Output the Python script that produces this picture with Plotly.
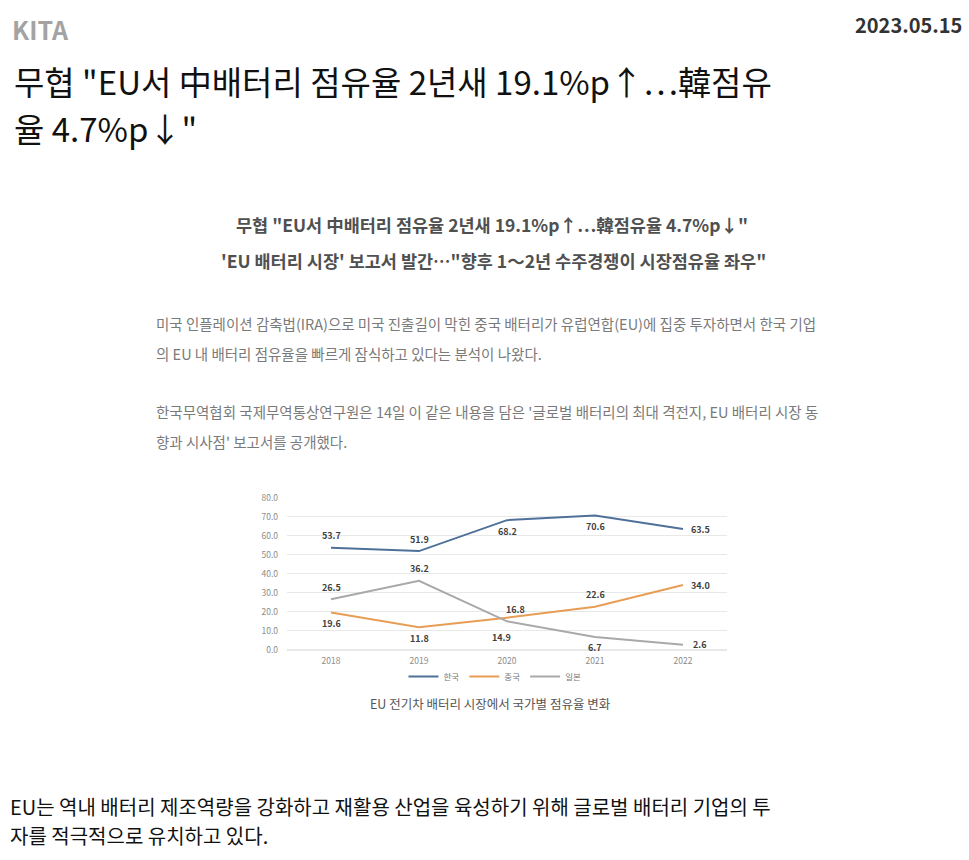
import plotly.graph_objects as go

# page size
W, H = 969, 860

# chart data
years = ["2018", "2019", "2020", "2021", "2022"]
korea = [53.7, 51.9, 68.2, 70.6, 63.5]
china = [19.6, 11.8, 16.8, 22.6, 34.0]
japan = [26.5, 36.2, 14.9, 6.7, 2.6]
series_names = ["한국", "중국", "일본"]
y_ticks = [0, 10, 20, 30, 40, 50, 60, 70, 80]

# page texts
site = "KITA"
date = "2023.05.15"
headline = ['무협 "EU서 中배터리 점유율 2년새 19.1%p↑…韓점유', '율 4.7%p↓"']
sub_1 = '무협 "EU서 中배터리 점유율 2년새 19.1%p↑…韓점유율 4.7%p↓"'
sub_2 = "'EU 배터리 시장' 보고서 발간…\"향후 1～2년 수주경쟁이 시장점유율 좌우\""
para = [
    "미국 인플레이션 감축법(IRA)으로 미국 진출길이 막힌 중국 배터리가 유럽연합(EU)에 집중 투자하면서 한국 기업",
    "의 EU 내 배터리 점유율을 빠르게 잠식하고 있다는 분석이 나왔다.",
    "한국무역협회 국제무역통상연구원은 14일 이 같은 내용을 담은 '글로벌 배터리의 최대 격전지, EU 배터리 시장 동",
    "향과 시사점' 보고서를 공개했다.",
]
caption = "EU 전기차 배터리 시장에서 국가별 점유율 변화"
body = ["EU는 역내 배터리 제조역량을 강화하고 재활용 산업을 육성하기 위해 글로벌 배터리 기업의 투",
        "자를 적극적으로 유치하고 있다."]

FONT = "Noto Sans CJK KR"
colors = ["#4f7099", "#e89d55", "#a9a9a9"]


def px(x, y):
    # pixel -> paper coords (margins are zero)
    return x / W, 1 - y / H


fig = go.Figure()

for name, vals, col in zip(series_names, [korea, china, japan], colors):
    fig.add_trace(go.Scatter(x=years, y=vals, name=name, mode="lines",
                             line=dict(color=col, width=2), hoverinfo="x+y+name"))

# data label placement, per series
label_pos = [
    ["t", "t", "b", "b", "r"],
    ["b", "b", "tr", "t", "r"],
    ["t", "t", "bl", "b", "r"],
]
shifts = {"t": (0, 12), "b": (0, -11), "r": (17, 0), "tr": (8, 8), "bl": (-6, -16)}

annotations = []
for vals, poss in zip([korea, china, japan], label_pos):
    for i, (v, p) in enumerate(zip(vals, poss)):
        dx, dy = shifts[p]
        annotations.append(dict(x=i, y=v, xref="x", yref="y", text="<b>%.1f</b>" % v,
                                showarrow=False, xshift=dx, yshift=dy,
                                font=dict(family=FONT, size=9, color="#3f3f3f")))


def add_text(text, x, y, size, color, anchor="left", weight="normal"):
    ax, ay = px(x, y)
    annotations.append(dict(x=ax, y=ay, xref="paper", yref="paper", text=text,
                            showarrow=False, xanchor=anchor, yanchor="middle", align="left",
                            font=dict(family=FONT, size=size, color=color, weight=weight)))


add_text(site, 10, 22, 25, "#a3a3a3", weight="bold")
add_text(date, 964, 18, 20, "#333333", anchor="right", weight="bold")
for txt, yy in zip(headline, [75, 123]):
    add_text(txt, 12, yy, 33, "#111111")
add_text(sub_1, 492, 221, 17.5, "#505050", anchor="center", weight="bold")
add_text(sub_2, 494, 257, 17.5, "#505050", anchor="center", weight="bold")
for txt, yy in zip(para, [321, 351, 410, 441]):
    add_text(txt, 154, yy, 14.5, "#7a7a7a")
add_text(caption, 490, 706, 12.5, "#555555", anchor="center")
for txt, yy in zip(body, [811, 840]):
    add_text(txt, 8, yy, 20, "#111111")

x0, y_top = px(287, 497.7)
x1, y_bot = px(727, 651.7)
lx, ly = px(495, 679)

fig.update_layout(
    width=W, height=H, autosize=False,
    margin=dict(l=0, r=0, t=0, b=0),
    paper_bgcolor="white", plot_bgcolor="white",
    font=dict(family=FONT, color="#888888"),
    xaxis=dict(domain=[x0, x1], type="category", range=[-0.5, 4.5],
               showgrid=False, showline=False, zeroline=False, ticks="",
               ticklabelstandoff=5, tickfont=dict(size=8.5, color="#8c8c8c")),
    yaxis=dict(domain=[y_bot, y_top], range=[0, 80], tickvals=y_ticks,
               tickformat=".1f", showgrid=True, gridcolor="#e8e8e8", gridwidth=1,
               zeroline=True, zerolinecolor="#e8e8e8", showline=False, ticks="",
               ticklabelstandoff=8, tickfont=dict(size=8.5, color="#8c8c8c")),
    legend=dict(orientation="h", x=lx, y=ly, xanchor="center", yanchor="middle",
                bgcolor="rgba(0,0,0,0)", font=dict(size=8.5, color="#777777"),
                itemwidth=30, tracegroupgap=0),
    showlegend=True,
    annotations=annotations,
)

# drop the browser's default body margin so the page lines up with the window
fig.write_html("out.html", config={"displayModeBar": False},
               post_script="document.body.style.margin='0';")
